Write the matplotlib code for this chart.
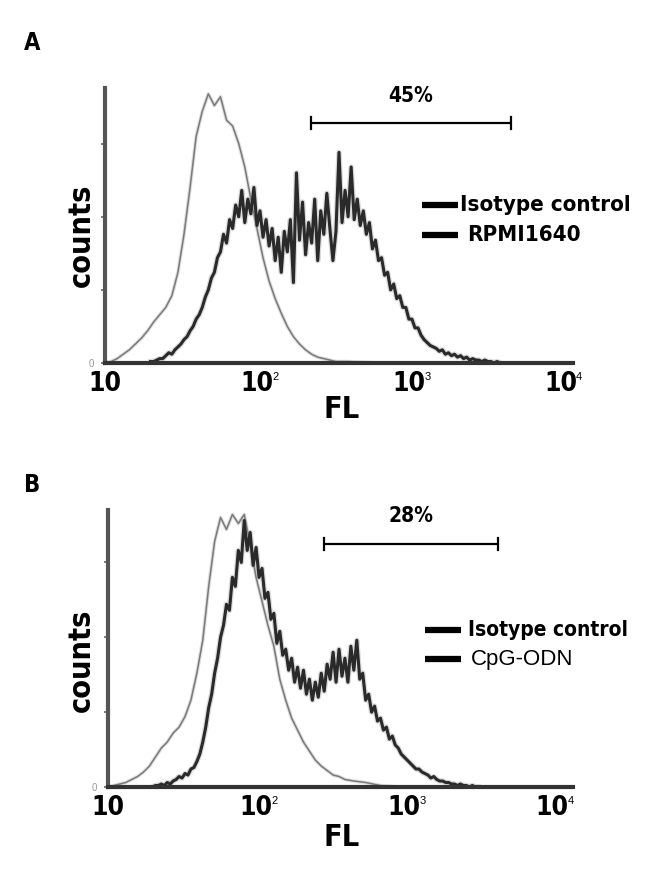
import numpy as np
import matplotlib
matplotlib.use("Agg")
import matplotlib.pyplot as plt
from matplotlib import font_manager as fm

# ---------------- data (log10 FL positions and counts) ----------------
# Panel A: isotype control (grey)
iso_a_log = [1.00, 1.04, 1.08, 1.12, 1.16, 1.20, 1.24, 1.28, 1.32, 1.36, 1.40, 1.44, 1.48,
             1.52, 1.56, 1.60, 1.64, 1.68, 1.72, 1.76, 1.80, 1.84, 1.88, 1.92, 1.96, 2.00,
             2.04, 2.08, 2.12, 2.16, 2.20, 2.24, 2.28, 2.32, 2.36, 2.40, 2.44, 2.48, 2.52,
             2.60, 2.80, 3.20, 3.60, 4.00]
iso_a_cnt = [0, 1, 3, 6, 9, 13, 17, 22, 28, 33, 38, 46, 62,
             88, 120, 155, 172, 184, 176, 182, 166, 162, 150, 134, 112, 92,
             72, 56, 44, 34, 25, 18, 13, 9, 6, 4, 3, 2, 1,
             1, 0, 0, 0, 0]

# Panel A: RPMI1640 (dark, noisy) – 0.02 log steps from 1.30 to 3.60
rpmi_log = list(np.round(np.arange(1.30, 3.601, 0.02), 2))
rpmi_cnt = [1, 1, 2, 3, 3, 5, 7, 6, 9, 11,
            13, 16, 18, 22, 25, 30, 33, 38, 45, 50,
            58, 62, 72, 76, 88, 82, 98, 92, 108, 100,
            118, 96, 112, 102, 120, 94, 104, 86, 98, 80,
            92, 70, 86, 62, 90, 76, 98, 55, 130, 84,
            110, 74, 96, 82, 112, 70, 104, 88, 116, 92,
            70, 90, 144, 96, 118, 100, 134, 98, 112, 94,
            104, 88, 96, 78, 84, 70, 72, 60, 62, 50,
            54, 44, 46, 38, 38, 30, 30, 24, 24, 19,
            16, 14, 12, 11, 10, 8, 9, 6, 7, 5,
            6, 4, 5, 3, 4, 2, 3, 2, 2, 1,
            2, 1, 1, 0, 1, 0]

# Panel B: isotype control (grey)
iso_b_log = [1.00, 1.04, 1.08, 1.12, 1.16, 1.20, 1.24, 1.28, 1.32, 1.36, 1.40, 1.44, 1.48,
             1.52, 1.56, 1.60, 1.64, 1.68, 1.72, 1.76, 1.80, 1.84, 1.88, 1.92, 1.96, 2.00,
             2.04, 2.08, 2.12, 2.16, 2.20, 2.24, 2.28, 2.32, 2.36, 2.40, 2.44, 2.48, 2.52,
             2.56, 2.60, 2.66, 2.74, 2.84, 2.95, 3.40, 4.00]
iso_b_cnt = [0, 1, 2, 3, 5, 7, 10, 14, 20, 26, 30, 36, 40,
             47, 58, 76, 98, 134, 164, 180, 172, 182, 176, 182, 162, 140,
             124, 108, 94, 72, 58, 46, 38, 30, 24, 18, 14, 11, 8,
             7, 5, 4, 3, 1, 0, 0, 0]

# Panel B: CpG-ODN (dark, noisy) – 0.02 log steps from 1.30 to 3.50
cpg_log = list(np.round(np.arange(1.30, 3.501, 0.02), 2))
cpg_cnt = [0, 1, 1, 2, 1, 3, 2, 4, 5, 7,
           6, 9, 8, 12, 13, 17, 22, 30, 40, 53,
           62, 76, 86, 100, 108, 122, 118, 140, 134, 158,
           150, 178, 158, 170, 148, 160, 140, 146, 126, 130,
           112, 116, 96, 104, 88, 92, 78, 86, 70, 80,
           66, 78, 62, 72, 58, 70, 60, 76, 64, 82,
           72, 90, 70, 92, 74, 86, 70, 94, 78, 98,
           72, 76, 58, 62, 50, 54, 44, 46, 38, 40,
           32, 34, 28, 26, 22, 20, 18, 16, 14, 12,
           12, 10, 9, 8, 6, 7, 5, 4, 4, 3,
           3, 2, 2, 1, 2, 1, 1, 0, 1, 0, 0]

panel_letters = ["A", "B"]
gate_labels = ["45%", "28%"]
gate_ranges = [(226, 4680), (288, 4270)]
gate_heights = [164, 162]
legend_labels = [["Isotype control", "RPMI1640"], ["Isotype control", "CpG-ODN"]]
xtick_values = [10, 100, 1000, 10000]
xtick_exps = ["", "2", "3", "4"]
ytick_values = [0, 50, 100, 150]

# ---------------- fonts ----------------
cond = [f for f in fm.fontManager.ttflist
        if f.name == "DejaVu Sans" and str(f.stretch) in ("condensed", "semi-condensed", "600", "500")
        and f.weight in ("bold", 700)]
if cond:
    BOLD = dict(fontproperties=fm.FontProperties(fname=cond[0].fname))
else:
    BOLD = dict(family=["Liberation Sans", "DejaVu Sans"], fontweight="bold")
plt.rcParams['font.family'] = ["Liberation Sans", "DejaVu Sans"]


def bold(size):
    if "fontproperties" in BOLD:
        fp = BOLD["fontproperties"].copy()
        fp.set_size(size)
        return dict(fontproperties=fp)
    return dict(BOLD, fontsize=size)


W, H = 662, 875
fig = plt.figure(figsize=(W / 100, H / 100), dpi=100)


def px_axes(left, top, right, bottom):
    return fig.add_axes([left / W, 1 - bottom / H, (right - left) / W, (bottom - top) / H])


axA = px_axes(105, 88, 573, 363)
axB = px_axes(108, 510, 573, 787)

panels = [
    (axA, iso_a_log, iso_a_cnt, rpmi_log, rpmi_cnt, 10 ** 4.08, 188),
    (axB, iso_b_log, iso_b_cnt, cpg_log, cpg_cnt, 10 ** 4.14, 185),
]

for i, (ax, il, ic, dl, dc, xmax, ymax) in enumerate(panels):
    ix = 10 ** np.array(il)
    dx = 10 ** np.array(dl)
    # isotype: grey line
    ax.plot(ix, ic, color="#bdbdbd", lw=2.6, alpha=0.5, zorder=2)
    ax.plot(ix, ic, color="#7a7a7a", lw=1.1, zorder=3)
    # treated: dark noisy line
    ax.plot(dx, dc, color="#9a9a9a", lw=4.0, alpha=0.35, zorder=4)
    ax.plot(dx, dc, color="#2a2a2a", lw=2.2, zorder=5)

    ax.set_xscale("log")
    ax.set_xlim(10, xmax)
    ax.set_ylim(0, ymax)

    for s in ["top", "right"]:
        ax.spines[s].set_visible(False)
    ax.spines["left"].set_linewidth(3)
    ax.spines["left"].set_color("#555555")
    ax.spines["bottom"].set_linewidth(3)
    ax.spines["bottom"].set_color("#333333")
    ax.spines["bottom"].set_zorder(6)

    ax.set_yticks(ytick_values)
    ax.set_yticklabels(["0", "", "", ""], fontsize=7, color="#999999")
    ax.tick_params(axis="y", length=3, width=1.2, color="#666666", pad=5)
    ax.minorticks_off()
    ax.set_xticks(xtick_values)
    ax.set_xticklabels(["10"] * 4, **bold(19))
    ax.tick_params(axis="x", length=0, pad=6)
    # exponents
    for xv, e in zip(xtick_values, xtick_exps):
        if e:
            ax.annotate(e, xy=(xv, 0), xycoords="data", xytext=(11, -10),
                        textcoords="offset points", fontsize=8, ha="left", va="center")

    ax.set_xlabel("FL", labelpad=2, **bold(22))
    ax.set_ylabel("counts", labelpad=2, **bold(22))

    # gate bar
    g0, g1 = gate_ranges[i]
    gy = gate_heights[i]
    ax.plot([g0, g1], [gy, gy], color="black", lw=1.6, solid_capstyle="butt")
    for gx in (g0, g1):
        ax.plot([gx, gx], [gy - 4, gy + 4], color="black", lw=1.6)
    ax.text(np.sqrt(g0 * g1), gy + 12, gate_labels[i], ha="center", va="bottom", **bold(15))

# x/y label positions (pixels)
axA.xaxis.set_label_coords((342 - 105) / (573 - 105), -(410 - 363) / (363 - 88))
axA.yaxis.set_label_coords(-(105 - 81) / (573 - 105), (363 - 235) / (363 - 88))
axB.xaxis.set_label_coords((342 - 108) / (573 - 108), -(838 - 787) / (787 - 510))
axB.yaxis.set_label_coords(-(108 - 81) / (573 - 108), (787 - 660) / (787 - 510))
for ax in (axA, axB):
    ax.xaxis.label.set_va("center")
    ax.yaxis.label.set_va("center")

# panel letters
fig.text(32 / W, 1 - 43 / H, panel_letters[0], ha="center", va="center", **bold(17))
fig.text(32 / W, 1 - 485 / H, panel_letters[1], ha="center", va="center", **bold(17))

# legends (pixel placed)
legend_spec = [
    (422, 458, [205, 235], [460, 467], ["bold", "bold"], 16),
    (425, 461, [630, 659], [468, 471], ["bold", "normal"], 15),
]
for i, (x0, x1, ys, txs, wts, fs) in enumerate(legend_spec):
    for j in range(2):
        y = 1 - ys[j] / H
        fig.add_artist(plt.Line2D([x0 / W, x1 / W], [y, y], color="black", lw=4.5,
                                  solid_capstyle="butt", transform=fig.transFigure))
        if wts[j] == "bold":
            fig.text(txs[j] / W, y, legend_labels[i][j], ha="left", va="center", **bold(fs))
        else:
            fig.text(txs[j] / W, y, legend_labels[i][j], ha="left", va="center",
                     fontsize=16, family=["Liberation Sans", "DejaVu Sans"])

fig.savefig("out.png", dpi=100)
